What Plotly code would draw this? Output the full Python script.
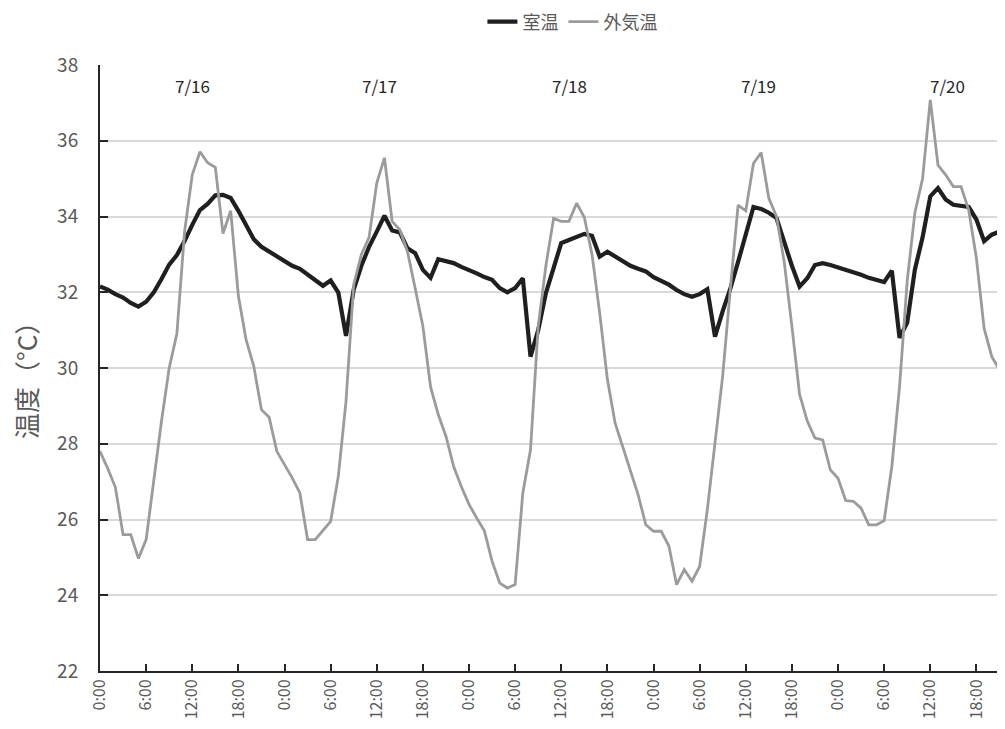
import plotly.graph_objects as go

# hourly readings starting 7/16 0:00
indoor = [
    32.15, 32.07, 31.95, 31.86, 31.72, 31.62, 31.75, 32.00, 32.35, 32.73, 32.98, 33.35,
    33.78, 34.17, 34.33, 34.56, 34.57, 34.49, 34.15, 33.75, 33.40, 33.20, 33.07, 32.95,
    32.82, 32.70, 32.62, 32.47, 32.35, 32.17, 32.31, 31.99, 30.85, 32.07, 32.70, 33.20,
    33.60, 34.02, 33.63, 33.58, 33.16, 33.03, 32.59, 32.38, 32.87, 32.81, 32.77, 32.67,
    32.59, 32.50, 32.40, 32.33, 32.11, 32.00, 32.11, 32.37, 30.30, 31.00, 31.98, 32.60,
    33.30, 33.38, 33.46, 33.54, 33.49, 32.94, 33.07, 32.95, 32.80, 32.70, 32.62, 32.55,
    32.40, 32.30, 32.20, 32.06, 31.95, 31.88, 31.95, 32.08, 30.83, 31.50, 32.10, 32.80,
    33.50, 34.25, 34.20, 34.10, 33.96, 33.30, 32.70, 32.15, 32.37, 32.72, 32.77, 32.72,
    32.66, 32.60, 32.53, 32.46, 32.38, 32.32, 32.27, 32.57, 30.80, 31.20, 32.60, 33.45,
    34.53, 34.75, 34.45, 34.31, 34.28, 34.25, 33.92, 33.35, 33.52, 33.60, 33.63,
]
outdoor = [
    27.80, 27.35, 26.85, 25.60, 25.60, 24.97, 25.47, 27.05, 28.60, 30.00, 30.90, 33.60,
    35.10, 35.71, 35.42, 35.30, 33.55, 34.15, 31.90, 30.75, 30.05, 28.90, 28.70, 27.80,
    27.45, 27.10, 26.70, 25.47, 25.47, 25.70, 25.95, 27.14, 29.12, 32.20, 33.00, 33.45,
    34.88, 35.55, 33.87, 33.65, 33.07, 32.10, 31.10, 29.50, 28.77, 28.20, 27.40, 26.87,
    26.40, 26.04, 25.70, 24.90, 24.32, 24.19, 24.28, 26.70, 27.84, 31.10, 32.70, 33.95,
    33.87, 33.87, 34.35, 33.98, 33.00, 31.45, 29.70, 28.55, 27.93, 27.31, 26.65, 25.86,
    25.69, 25.69, 25.30, 24.28, 24.68, 24.37, 24.76, 26.26, 28.10, 29.80, 32.10, 34.30,
    34.15, 35.40, 35.69, 34.48, 34.00, 32.80, 31.10, 29.30, 28.60, 28.15, 28.10, 27.31,
    27.09, 26.50, 26.48, 26.30, 25.86, 25.86, 25.97, 27.40, 29.50, 32.30, 34.10, 35.00,
    37.08, 35.36, 35.10, 34.79, 34.79, 34.17, 32.90, 31.05, 30.30, 29.95, 29.70,
]
hours = list(range(len(indoor)))

tick_hours = list(range(0, 118, 6))
tick_labels = ["0:00", "6:00", "12:00", "18:00"] * 5
date_labels = ["7/16", "7/17", "7/18", "7/19", "7/20"]
date_label_hours = [12, 36.4, 61.1, 85.6, 110.3]
series_names = ["室温", "外気温"]

FONT = "Noto Sans CJK JP, Noto Sans, sans-serif"
GRAY_TXT = "#595959"

fig = go.Figure()
fig.add_trace(go.Scatter(x=hours, y=indoor, mode="lines", name=series_names[0],
                         line=dict(color="#1f1f1f", width=4.2)))
fig.add_trace(go.Scatter(x=hours, y=outdoor, mode="lines", name=series_names[1],
                         line=dict(color="#9b9b9b", width=2.8)))

for lab, hx in zip(date_labels, date_label_hours):
    fig.add_annotation(x=hx, y=37.47, xref="x", yref="y", text=lab, showarrow=False,
                       font=dict(family=FONT, size=17, color="#262626"))

fig.add_annotation(x=-0.083, y=0.49, xref="paper", yref="paper", text="温度（°C）",
                   textangle=-90, showarrow=False, xanchor="center", yanchor="middle",
                   font=dict(family=FONT, size=26, color=GRAY_TXT))

# page body has an 8px margin; figure sized so the plot area lands at 100..1005 x 65..671
fig.update_layout(
    width=997, height=713,
    margin=dict(l=92, r=0, t=57, b=50, autoexpand=False),
    paper_bgcolor="white", plot_bgcolor="white",
    font=dict(family=FONT, color=GRAY_TXT),
    showlegend=True,
    legend=dict(orientation="h", x=0.522, xanchor="center", y=1.071, yanchor="middle",
                font=dict(family=FONT, size=18, color=GRAY_TXT), itemwidth=30,
                tracegroupgap=0),
    xaxis=dict(range=[0, 117.72], tickmode="array", tickvals=tick_hours, ticktext=tick_labels,
               tickangle=-90, ticks="inside", ticklen=7, tickwidth=2, tickcolor="#262626",
               showline=True, linecolor="#262626", linewidth=2, showgrid=False,
               zeroline=False, automargin=False, ticklabelstandoff=0,
               tickfont=dict(family=FONT, size=16, color=GRAY_TXT)),
    yaxis=dict(range=[22, 38], dtick=2, ticks="inside", ticklen=8, tickwidth=2,
               tickcolor="#262626", showline=True, linecolor="#262626", linewidth=2,
               showgrid=True, gridcolor="#d9d9d9", gridwidth=1.5, zeroline=False,
               automargin=False, ticklabelstandoff=16,
               tickfont=dict(family=FONT, size=19, color=GRAY_TXT)),
)

fig.write_html(
    "out.html",
    post_script="document.documentElement.style.overflow='hidden';"
                "document.body.style.overflow='hidden';",
)
